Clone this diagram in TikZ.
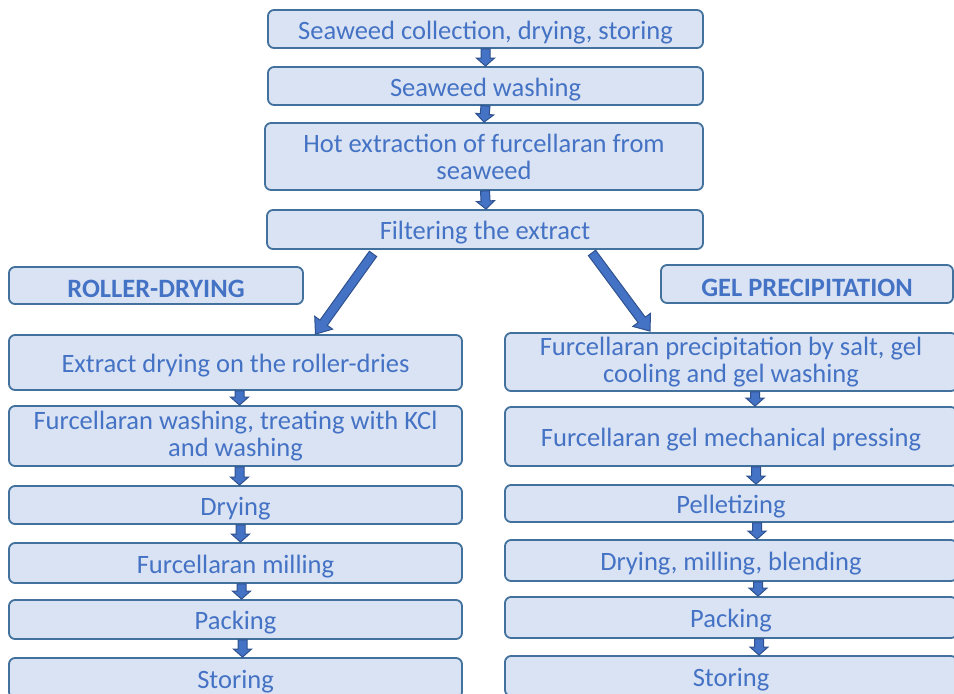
\documentclass[tikz,border=0pt]{standalone}
\usepackage{fontspec}
\setmainfont{Carlito}
\usepackage{tikz}
\usetikzlibrary{calc}
\definecolor{boxfill}{HTML}{DAE3F3}
\definecolor{boxline}{HTML}{41719C}
\definecolor{boxtext}{HTML}{4472C4}
\definecolor{arrowline}{HTML}{2F528F}
\tikzstyle{stage}=[draw=boxline, line width=1.8pt, fill=boxfill, rounded corners=6pt, text=boxtext, align=center, inner sep=0pt, font=\fontsize{26.5}{27}\selectfont, execute at begin node={\rule{0pt}{25pt}}]
\tikzstyle{route}=[stage, font=\fontsize{26.5}{27}\selectfont\bfseries]
\tikzstyle{flow}=[fill=boxtext, draw=arrowline, line width=1pt, line join=miter]
\newcommand{\blockArrow}[5]{
	\coordinate (ZZs) at #1;
	\coordinate (ZZt) at #2;
	\coordinate (ZZh) at ($(ZZt)!#5!(ZZs)$);
	\filldraw[flow] ($(ZZs)!#3!90:(ZZt)$) -- ($(ZZh)!#3!90:(ZZt)$) -- ($(ZZh)!#4!90:(ZZt)$) -- (ZZt) -- ($(ZZh)!#4!-90:(ZZt)$) -- ($(ZZh)!#3!-90:(ZZt)$) -- ($(ZZs)!#3!-90:(ZZt)$) -- cycle;
}
\newcommand{\stepArrow}[2]{\blockArrow{#1}{#2}{4.5pt}{9pt}{8pt}}
\newcommand{\splitArrow}[2]{\blockArrow{#1}{#2}{4.5pt}{11pt}{14pt}}

\begin{document}
\begin{tikzpicture}[x=1pt, y=-1pt]
	\fill[white] (0,0) rectangle (954,694);
	\useasboundingbox (0,0) rectangle (954,694);
	% common steps
	\node[stage, minimum width=435pt, minimum height=38pt] (collect) at (485.5,29) {Seaweed collection, drying, storing};
	\node[stage, minimum width=435pt, minimum height=38pt] (wash) at (485.5,86) {Seaweed washing};
	\node[stage, minimum width=438pt, minimum height=67pt] (extract) at (484,156.5) {Hot extraction of furcellaran from\\seaweed};
	\node[stage, minimum width=436pt, minimum height=39pt] (filter) at (485,229.5) {Filtering the extract};
	% the two routes
	\node[route, minimum width=294pt, minimum height=37pt] (roller) at (156,285.5) {ROLLER-DRYING};
	\node[route, minimum width=292pt, minimum height=38pt] (gel) at (807,284) {GEL PRECIPITATION};
	% roller-drying
	\node[stage, minimum width=453pt, minimum height=55pt] (rdry) at (235.5,362.5) {Extract drying on the roller-dries};
	\node[stage, minimum width=453pt, minimum height=60pt] (rwash) at (235.5,436) {Furcellaran washing, treating with KCl\\and washing};
	\node[stage, minimum width=453pt, minimum height=38pt] (rdrying) at (235.5,505) {Drying};
	\node[stage, minimum width=453pt, minimum height=40pt] (rmill) at (235.5,563) {Furcellaran milling};
	\node[stage, minimum width=453pt, minimum height=39pt] (rpack) at (235.5,619.5) {Packing};
	\node[stage, minimum width=453pt, minimum height=40pt] (rstore) at (235.5,678) {Storing};
	% gel precipitation
	\node[stage, minimum width=452pt, minimum height=58pt] (gprec) at (731,362) {Furcellaran precipitation by salt, gel\\cooling and gel washing};
	\node[stage, minimum width=452pt, minimum height=59pt] (gpress) at (731,436.5) {Furcellaran gel mechanical pressing};
	\node[stage, minimum width=452pt, minimum height=37pt] (gpellet) at (731,503.5) {Pelletizing};
	\node[stage, minimum width=452pt, minimum height=41pt] (gdry) at (731,560.5) {Drying, milling, blending};
	\node[stage, minimum width=452pt, minimum height=41pt] (gpack) at (731,617.5) {Packing};
	\node[stage, minimum width=452pt, minimum height=40pt] (gstore) at (731,676) {Storing};
	% arrows
	\stepArrow{(collect.south)}{(wash.north)}
	\stepArrow{(wash.south)}{(extract.north)}
	\stepArrow{($(extract.south)+(1,0)$)}{($(filter.north)+(1,0)$)}
	\coordinate (splitL) at ($(filter.south)+(-112,4)$);
	\coordinate (splitR) at ($(filter.south)+(107,3)$);
	\splitArrow{(splitL)}{($(rdry.north)+(80,0)$)}
	\splitArrow{(splitR)}{($(gprec.north)+(-81,-1)$)}
	\stepArrow{($(rdry.south)+(4,0)$)}{($(rwash.north)+(4,0)$)}
	\stepArrow{($(rwash.south)+(4,0)$)}{($(rdrying.north)+(4,0)$)}
	\stepArrow{($(rdrying.south)+(5,0)$)}{($(rmill.north)+(5,0)$)}
	\stepArrow{($(rmill.south)+(6,0)$)}{($(rpack.north)+(6,0)$)}
	\stepArrow{($(rpack.south)+(7,0)$)}{($(rstore.north)+(7,0)$)}
	\stepArrow{($(gprec.south)+(24,0)$)}{($(gpress.north)+(24,0)$)}
	\stepArrow{($(gpress.south)+(25,0)$)}{($(gpellet.north)+(25,0)$)}
	\stepArrow{($(gpellet.south)+(26,0)$)}{($(gdry.north)+(26,0)$)}
	\stepArrow{($(gdry.south)+(27,0)$)}{($(gpack.north)+(27,0)$)}
	\stepArrow{($(gpack.south)+(28,0)$)}{($(gstore.north)+(28,0)$)}
\end{tikzpicture}
\end{document}
